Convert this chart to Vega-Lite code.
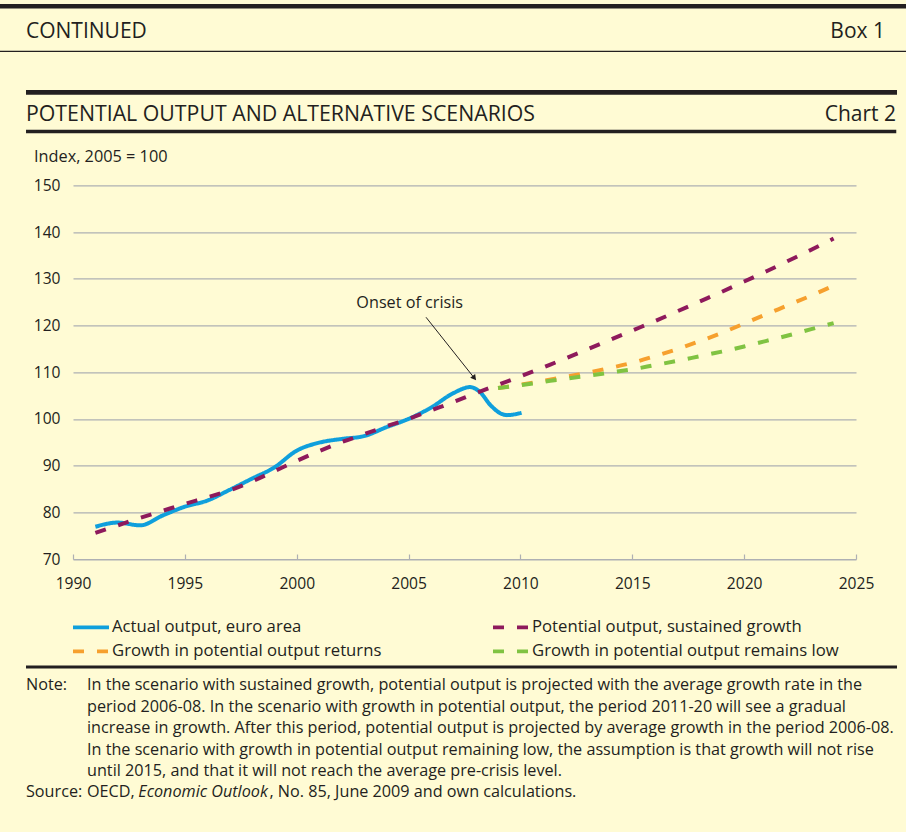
{
  "$schema": "https://vega.github.io/schema/vega-lite/v6.json",
  "autosize": "none",
  "width": 783,
  "height": 373.7,
  "padding": {"left": 73, "top": 185.3, "right": 50, "bottom": 273},
  "background": "#fffbd4",
  "config": {
    "font": "Open Sans",
    "view": {"stroke": null},
    "text": {"color": "#231f20"},
    "legend": {
      "orient": "none",
      "legendX": -2,
      "legendY": 432,
      "columns": 2,
      "columnPadding": 109,
      "rowPadding": 4,
      "clipHeight": 20,
      "padding": 0,
      "symbolType": "stroke",
      "symbolSize": 1296,
      "symbolStrokeWidth": 3.8,
      "labelFontSize": 16.7,
      "labelColor": "#231f20",
      "labelOffset": 1,
      "labelLimit": 400
    }
  },
  "datasets": {
    "lines": [
      {"series": "Growth in potential output returns", "year": 2009, "value": 106.6},
      {"series": "Growth in potential output returns", "year": 2010, "value": 107.3},
      {"series": "Growth in potential output returns", "year": 2011, "value": 108.1},
      {"series": "Growth in potential output returns", "year": 2012, "value": 109.0},
      {"series": "Growth in potential output returns", "year": 2013, "value": 109.9},
      {"series": "Growth in potential output returns", "year": 2014, "value": 110.9},
      {"series": "Growth in potential output returns", "year": 2015, "value": 112.0},
      {"series": "Growth in potential output returns", "year": 2016, "value": 113.4},
      {"series": "Growth in potential output returns", "year": 2017, "value": 114.9},
      {"series": "Growth in potential output returns", "year": 2018, "value": 116.6},
      {"series": "Growth in potential output returns", "year": 2019, "value": 118.4},
      {"series": "Growth in potential output returns", "year": 2020, "value": 120.4},
      {"series": "Growth in potential output returns", "year": 2021, "value": 122.4},
      {"series": "Growth in potential output returns", "year": 2022, "value": 124.4},
      {"series": "Growth in potential output returns", "year": 2023, "value": 126.4},
      {"series": "Growth in potential output returns", "year": 2024, "value": 128.5},
      {"series": "Growth in potential output remains low", "year": 2009, "value": 106.6},
      {"series": "Growth in potential output remains low", "year": 2010, "value": 107.2},
      {"series": "Growth in potential output remains low", "year": 2011, "value": 107.9},
      {"series": "Growth in potential output remains low", "year": 2012, "value": 108.6},
      {"series": "Growth in potential output remains low", "year": 2013, "value": 109.2},
      {"series": "Growth in potential output remains low", "year": 2014, "value": 109.9},
      {"series": "Growth in potential output remains low", "year": 2015, "value": 110.6},
      {"series": "Growth in potential output remains low", "year": 2016, "value": 111.5},
      {"series": "Growth in potential output remains low", "year": 2017, "value": 112.4},
      {"series": "Growth in potential output remains low", "year": 2018, "value": 113.4},
      {"series": "Growth in potential output remains low", "year": 2019, "value": 114.4},
      {"series": "Growth in potential output remains low", "year": 2020, "value": 115.5},
      {"series": "Growth in potential output remains low", "year": 2021, "value": 116.7},
      {"series": "Growth in potential output remains low", "year": 2022, "value": 117.9},
      {"series": "Growth in potential output remains low", "year": 2023, "value": 119.2},
      {"series": "Growth in potential output remains low", "year": 2024, "value": 120.5},
      {"series": "Actual output, euro area", "year": 1991, "value": 76.9},
      {"series": "Actual output, euro area", "year": 1992, "value": 77.8},
      {"series": "Actual output, euro area", "year": 1993, "value": 77.2},
      {"series": "Actual output, euro area", "year": 1994, "value": 79.3},
      {"series": "Actual output, euro area", "year": 1995, "value": 81.2},
      {"series": "Actual output, euro area", "year": 1996, "value": 82.5},
      {"series": "Actual output, euro area", "year": 1997, "value": 84.8},
      {"series": "Actual output, euro area", "year": 1998, "value": 87.2},
      {"series": "Actual output, euro area", "year": 1999, "value": 89.6},
      {"series": "Actual output, euro area", "year": 2000, "value": 93.2},
      {"series": "Actual output, euro area", "year": 2001, "value": 94.9},
      {"series": "Actual output, euro area", "year": 2002, "value": 95.7},
      {"series": "Actual output, euro area", "year": 2003, "value": 96.3},
      {"series": "Actual output, euro area", "year": 2004, "value": 98.2},
      {"series": "Actual output, euro area", "year": 2005, "value": 100.0},
      {"series": "Actual output, euro area", "year": 2006, "value": 102.4},
      {"series": "Actual output, euro area", "year": 2007, "value": 105.5},
      {"series": "Actual output, euro area", "year": 2007.75, "value": 106.8},
      {"series": "Actual output, euro area", "year": 2008.2, "value": 105.7},
      {"series": "Actual output, euro area", "year": 2008.65, "value": 103.0},
      {"series": "Actual output, euro area", "year": 2009.1, "value": 101.2},
      {"series": "Actual output, euro area", "year": 2009.4, "value": 100.8},
      {"series": "Actual output, euro area", "year": 2010.05, "value": 101.3},
      {"series": "Potential output, sustained growth", "year": 1991, "value": 75.6},
      {"series": "Potential output, sustained growth", "year": 1992, "value": 77.2},
      {"series": "Potential output, sustained growth", "year": 1993, "value": 78.8},
      {"series": "Potential output, sustained growth", "year": 1994, "value": 80.3},
      {"series": "Potential output, sustained growth", "year": 1995, "value": 81.8},
      {"series": "Potential output, sustained growth", "year": 1996, "value": 83.2},
      {"series": "Potential output, sustained growth", "year": 1997, "value": 84.7},
      {"series": "Potential output, sustained growth", "year": 1998, "value": 86.6},
      {"series": "Potential output, sustained growth", "year": 1999, "value": 88.8},
      {"series": "Potential output, sustained growth", "year": 2000, "value": 91.0},
      {"series": "Potential output, sustained growth", "year": 2001, "value": 93.1},
      {"series": "Potential output, sustained growth", "year": 2002, "value": 95.0},
      {"series": "Potential output, sustained growth", "year": 2003, "value": 96.7},
      {"series": "Potential output, sustained growth", "year": 2004, "value": 98.4},
      {"series": "Potential output, sustained growth", "year": 2005, "value": 100.0},
      {"series": "Potential output, sustained growth", "year": 2006, "value": 101.8},
      {"series": "Potential output, sustained growth", "year": 2007, "value": 103.6},
      {"series": "Potential output, sustained growth", "year": 2008, "value": 105.5},
      {"series": "Potential output, sustained growth", "year": 2009, "value": 107.3},
      {"series": "Potential output, sustained growth", "year": 2010, "value": 109.1},
      {"series": "Potential output, sustained growth", "year": 2011, "value": 111.0},
      {"series": "Potential output, sustained growth", "year": 2012, "value": 112.9},
      {"series": "Potential output, sustained growth", "year": 2013, "value": 114.9},
      {"series": "Potential output, sustained growth", "year": 2014, "value": 116.9},
      {"series": "Potential output, sustained growth", "year": 2015, "value": 118.9},
      {"series": "Potential output, sustained growth", "year": 2016, "value": 120.9},
      {"series": "Potential output, sustained growth", "year": 2017, "value": 123.0},
      {"series": "Potential output, sustained growth", "year": 2018, "value": 125.1},
      {"series": "Potential output, sustained growth", "year": 2019, "value": 127.2},
      {"series": "Potential output, sustained growth", "year": 2020, "value": 129.4},
      {"series": "Potential output, sustained growth", "year": 2021, "value": 131.6},
      {"series": "Potential output, sustained growth", "year": 2022, "value": 133.9},
      {"series": "Potential output, sustained growth", "year": 2023, "value": 136.2},
      {"series": "Potential output, sustained growth", "year": 2024, "value": 138.6}
    ]
  },
  "layer": [
    {
      "data": {"name": "lines"},
      "mark": {"type": "line", "interpolate": "monotone", "strokeWidth": 4},
      "encoding": {
        "x": {"field": "year", "type": "quantitative",
          "scale": {"domain": [1990, 2025], "nice": false, "zero": false},
          "axis": {"values": [1990, 1995, 2000, 2005, 2010, 2015, 2020, 2025], "format": "d", "title": null, "grid": false,
            "domain": true, "ticks": true, "labels": true,
            "domainColor": "#aeb0b3", "domainWidth": 1.2, "tickColor": "#aeb0b3", "tickWidth": 1.2, "tickSize": -5,
            "labelPadding": 22, "labelFontSize": 15.6, "labelColor": "#231f20", "labelFlush": false}},
        "y": {"field": "value", "type": "quantitative",
          "scale": {"domain": [70, 150], "nice": false, "zero": false},
          "axis": {"values": [70, 80, 90, 100, 110, 120, 130, 140, 150], "title": null, "grid": true, "gridColor": "#aeb0b3", "gridWidth": 1.2,
            "domain": false, "ticks": false, "labels": true, "labelPadding": 13, "labelFontSize": 15.6, "labelColor": "#231f20"}},
        "color": {"field": "series", "type": "nominal",
          "scale": {"domain": ["Actual output, euro area", "Growth in potential output returns", "Potential output, sustained growth", "Growth in potential output remains low"],
            "range": ["#0f9fdc", "#f6a02e", "#8e1a5c", "#80c342"]},
          "legend": {"title": null}},
        "strokeDash": {"field": "series", "type": "nominal",
          "scale": {"domain": ["Actual output, euro area", "Growth in potential output returns", "Potential output, sustained growth", "Growth in potential output remains low"],
            "range": [[1, 0], [11, 13], [11, 13], [11, 13]]},
          "legend": {"title": null}}
      }
    },
    {
      "data": {"values": [{}]},
      "mark": {"type": "rule", "stroke": "#231f20", "strokeWidth": 4.5},
      "encoding": {
        "x": {"datum": 1986.737, "type": "quantitative", "title": null},
        "x2": {"datum": 2027.236},
        "y": {"datum": 188.35, "type": "quantitative", "title": null}
      }
    },
    {
      "data": {"values": [{}]},
      "mark": {"type": "rule", "stroke": "#231f20", "strokeWidth": 1.2},
      "encoding": {
        "x": {"datum": 1986.737, "type": "quantitative", "title": null},
        "x2": {"datum": 2027.236},
        "y": {"datum": 178.65, "type": "quantitative", "title": null}
      }
    },
    {
      "data": {"values": [{}]},
      "mark": {"type": "rule", "stroke": "#231f20", "strokeWidth": 4.7},
      "encoding": {
        "x": {"datum": 1987.899, "type": "quantitative", "title": null},
        "x2": {"datum": 2026.833},
        "y": {"datum": 169.89, "type": "quantitative", "title": null}
      }
    },
    {
      "data": {"values": [{}]},
      "mark": {"type": "rule", "stroke": "#231f20", "strokeWidth": 3},
      "encoding": {
        "x": {"datum": 1987.899, "type": "quantitative", "title": null},
        "x2": {"datum": 2026.833},
        "y": {"datum": 46.88, "type": "quantitative", "title": null}
      }
    },
    {
      "data": {"values": [{}]},
      "mark": {"type": "rule", "stroke": "#231f20", "strokeWidth": 1},
      "encoding": {
        "x": {"datum": 2005.78, "type": "quantitative", "title": null},
        "x2": {"datum": 2007.92},
        "y": {"datum": 121.75, "type": "quantitative", "title": null},
        "y2": {"datum": 108.85}
      }
    },
    {
      "data": {"values": [{}]},
      "mark": {"type": "point", "shape": "triangle", "filled": true, "color": "#231f20", "opacity": 1, "size": 40, "angle": 141.4},
      "encoding": {
        "x": {"datum": 2007.916, "type": "quantitative", "title": null},
        "y": {"datum": 108.9, "type": "quantitative", "title": null}
      }
    },
    {
      "data": {"values": [{}]},
      "mark": {"type": "text", "align": "center", "baseline": "alphabetic", "fontSize": 16.2},
      "encoding": {
        "x": {"datum": 2005.05, "type": "quantitative", "title": null},
        "y": {"datum": 123.67, "type": "quantitative", "title": null},
        "text": {"value": "Onset of crisis"}
      }
    },
    {
      "data": {"values": [{}]},
      "mark": {"type": "text", "align": "left", "baseline": "alphabetic", "fontSize": 21},
      "encoding": {
        "x": {"datum": 1987.899, "type": "quantitative", "title": null},
        "y": {"datum": 181.6, "type": "quantitative", "title": null},
        "text": {"value": "CONTINUED"}
      }
    },
    {
      "data": {"values": [{}]},
      "mark": {"type": "text", "align": "right", "baseline": "alphabetic", "fontSize": 21},
      "encoding": {
        "x": {"datum": 2026.297, "type": "quantitative", "title": null},
        "y": {"datum": 181.6, "type": "quantitative", "title": null},
        "text": {"value": "Box 1"}
      }
    },
    {
      "data": {"values": [{}]},
      "mark": {"type": "text", "align": "left", "baseline": "alphabetic", "fontSize": 21.3},
      "encoding": {
        "x": {"datum": 1987.899, "type": "quantitative", "title": null},
        "y": {"datum": 163.84, "type": "quantitative", "title": null},
        "text": {"value": "POTENTIAL OUTPUT AND ALTERNATIVE SCENARIOS"}
      }
    },
    {
      "data": {"values": [{}]},
      "mark": {"type": "text", "align": "right", "baseline": "alphabetic", "fontSize": 21},
      "encoding": {
        "x": {"datum": 2026.788, "type": "quantitative", "title": null},
        "y": {"datum": 163.84, "type": "quantitative", "title": null},
        "text": {"value": "Chart 2"}
      }
    },
    {
      "data": {"values": [{}]},
      "mark": {"type": "text", "align": "left", "baseline": "alphabetic", "fontSize": 16.3},
      "encoding": {
        "x": {"datum": 1988.257, "type": "quantitative", "title": null},
        "y": {"datum": 154.99, "type": "quantitative", "title": null},
        "text": {"value": "Index, 2005 = 100"}
      }
    },
    {
      "data": {"values": [{}]},
      "mark": {"type": "text", "align": "left", "baseline": "alphabetic", "fontSize": 16.2},
      "encoding": {
        "x": {"datum": 1987.899, "type": "quantitative", "title": null},
        "y": {"datum": 41.95, "type": "quantitative", "title": null},
        "text": {"value": "Note:"}
      }
    },
    {
      "data": {"values": [{}]},
      "mark": {"type": "text", "align": "left", "baseline": "alphabetic", "fontSize": 16.2, "lineHeight": 21.5},
      "encoding": {
        "x": {"datum": 1990.626, "type": "quantitative", "title": null},
        "y": {"datum": 41.95, "type": "quantitative", "title": null},
        "text": {"value": [
          "In the scenario with sustained growth, potential output is projected with the average growth rate in the",
          "period 2006-08. In the scenario with growth in potential output, the period 2011-20 will see a gradual",
          "increase in growth. After this period, potential output is projected by average growth in the period 2006-08.",
          "In the scenario with growth in potential output remaining low, the assumption is that growth will not rise",
          "until 2015, and that it will not reach the average pre-crisis level."
        ]}
      }
    },
    {
      "data": {"values": [{}]},
      "mark": {"type": "text", "align": "left", "baseline": "alphabetic", "fontSize": 16.2},
      "encoding": {
        "x": {"datum": 1987.899, "type": "quantitative", "title": null},
        "y": {"datum": 18.98, "type": "quantitative", "title": null},
        "text": {"value": "Source:"}
      }
    },
    {
      "data": {"values": [{}]},
      "mark": {"type": "text", "align": "left", "baseline": "alphabetic", "fontSize": 16.2},
      "encoding": {
        "x": {"datum": 1990.626, "type": "quantitative", "title": null},
        "y": {"datum": 18.98, "type": "quantitative", "title": null},
        "text": {"value": "OECD,"}
      }
    },
    {
      "data": {"values": [{}]},
      "mark": {"type": "text", "align": "left", "baseline": "alphabetic", "fontSize": 16.2, "fontStyle": "italic"},
      "encoding": {
        "x": {"datum": 1992.919, "type": "quantitative", "title": null},
        "y": {"datum": 18.98, "type": "quantitative", "title": null},
        "text": {"value": "Economic Outlook"}
      }
    },
    {
      "data": {"values": [{}]},
      "mark": {"type": "text", "align": "left", "baseline": "alphabetic", "fontSize": 16.2},
      "encoding": {
        "x": {"datum": 1998.78, "type": "quantitative", "title": null},
        "y": {"datum": 18.98, "type": "quantitative", "title": null},
        "text": {"value": ", No. 85, June 2009 and own calculations."}
      }
    },
    {
      "data": {"values": [{}]},
      "mark": {"type": "rule", "color": "#231f20", "strokeWidth": 3.5},
      "encoding": {
        "x": {"datum": 1987.9, "type": "quantitative", "title": null},
        "x2": {"datum": 2026.8},
        "y": {"datum": 161.5, "type": "quantitative", "title": null}
      }
    }
  ]
}
